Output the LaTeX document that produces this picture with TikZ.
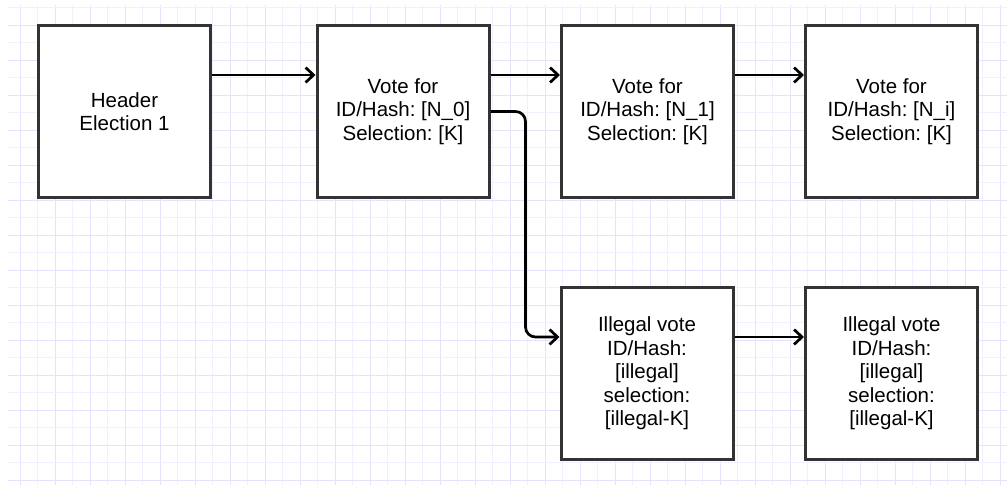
\documentclass[tikz,border=0pt]{standalone}
\usepackage{fontspec}
\setmainfont{Liberation Sans}
\usetikzlibrary{arrows.meta}
\definecolor{gridminor}{HTML}{F0F0FE}
\definecolor{gridmajor}{HTML}{E3E3FB}
\definecolor{boxline}{HTML}{333333}
\tikzset{
  block/.style={draw=boxline, line width=3pt, fill=white, minimum width=172pt,
    minimum height=172pt, align=center, inner sep=0pt,
    font=\fontsize{20.5pt}{23.5pt}\selectfont\frenchspacing},
  link/.style={line width=2.7pt, draw=black,
    -{Straight Barb[length=8pt,width=15pt,line width=2.7pt]}},
}
\begin{document}
\begin{tikzpicture}[x=1pt,y=-1pt]
\useasboundingbox (0,0) rectangle (1007,485);
\fill[white] (0,0) rectangle (1007,485);
% background grid, darker every second line
\foreach \i in {0,...,56} {
  \pgfmathsetmacro{\gx}{20+17.5*\i}
  \ifodd\i \def\gc{gridminor}\else \def\gc{gridmajor}\fi
  \draw[\gc, line width=1pt] (\gx,5) -- (\gx,485);
}
\foreach \j in {-1,...,26} {
  \pgfmathsetmacro{\gy}{25+17.5*\j}
  \ifodd\j \def\gc{gridminor}\else \def\gc{gridmajor}\fi
  \draw[\gc, line width=1pt] (8,\gy) -- (1007,\gy);
}
% blocks
\node[block] (hdr) at (124.5,111.5) {Header\\Election 1};
\node[block] (v0) at (403,111.5) {Vote for\\ID/Hash: [N\_0]\\Selection: [K]};
\node[block] (v1) at (647.5,111.5) {Vote for\\ID/Hash: [N\_1]\\Selection: [K]};
\node[block] (vi) at (891.5,111.5) {Vote for\\ID/Hash: [N\_i]\\Selection: [K]};
\node[block] (il1) at (647,373.5) {Illegal vote\\ID/Hash:\\{}[illegal]\\selection:\\{}[illegal-K]};
\node[block] (il2) at (891.5,373.5) {Illegal vote\\ID/Hash:\\{}[illegal]\\selection:\\{}[illegal-K]};
% connectors
\draw[link] ([yshift=36.5pt]hdr.east) -- ([yshift=36.5pt]v0.west);
\draw[link] ([yshift=36.5pt]v0.east) -- ([yshift=36.5pt]v1.west);
\draw[link] ([yshift=36.5pt]v1.east) -- ([yshift=36.5pt]vi.west);
\draw[link, rounded corners=10pt] (v0.east) -| ([xshift=-34pt,yshift=36.5pt]il1.west) -- ([yshift=36.5pt]il1.west);
\draw[link] ([yshift=36.5pt]il1.east) -- ([yshift=36.5pt]il2.west);
\end{tikzpicture}
\end{document}
